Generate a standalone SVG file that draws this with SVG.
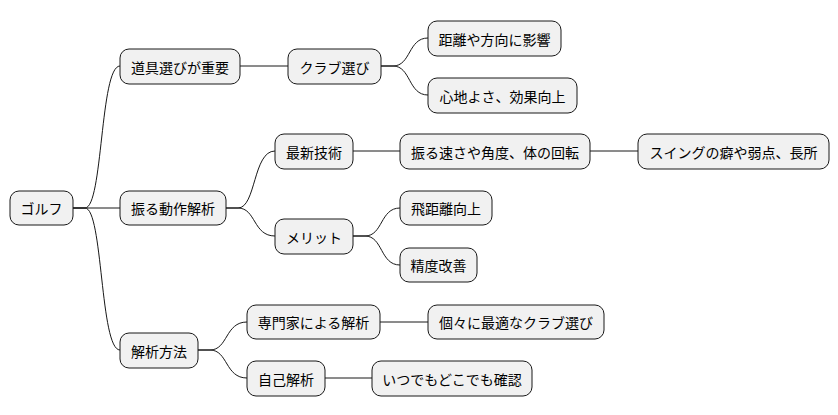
<svg xmlns="http://www.w3.org/2000/svg" width="838" height="415" viewBox="0 0 838 415">
<style>
.n rect{fill:#f1f1f1;stroke:#181818;stroke-width:1}
.n text{font-family:"Noto Sans CJK JP","Noto Sans",sans-serif;font-size:14px;fill:#000;text-anchor:middle;dominant-baseline:central}
#edges path{fill:none;stroke:#181818;stroke-width:1}
</style>
<rect width="838" height="415" fill="#fff"/>
<g id="edges">
<path d="M73,208 H85 C103,208 100,66 120,66"/>
<path d="M73,208 H120"/>
<path d="M73,208 H85 C103,208 100,350 120,350"/>
<path d="M240,66 H288"/>
<path d="M381,66 H393 C411,66 408,38 428,38"/>
<path d="M381,66 H393 C411,66 408,95 428,95"/>
<path d="M226,208 H238 C256,208 253,151 275,151"/>
<path d="M226,208 H238 C256,208 253,236 275,236"/>
<path d="M353,151 H400"/>
<path d="M590,151 H638"/>
<path d="M353,236 H365 C383,236 380,208 400,208"/>
<path d="M353,236 H365 C383,236 380,265 400,265"/>
<path d="M198,350 H210 C228,350 225,322 247,322"/>
<path d="M198,350 H210 C228,350 225,378 247,378"/>
<path d="M380,322 H428"/>
<path d="M325,378 H372"/>
</g>
<g id="n1" class="n"><rect x="10" y="191" width="63" height="34" rx="9"/><text x="41.5" y="208">ゴルフ</text></g>
<g id="n2" class="n"><rect x="120" y="49" width="120" height="35" rx="9"/><text x="180" y="66.5">道具選びが重要</text></g>
<g id="n3" class="n"><rect x="288" y="49" width="93" height="35" rx="9"/><text x="334.5" y="66.5">クラブ選び</text></g>
<g id="n4" class="n"><rect x="428" y="21" width="133" height="35" rx="9"/><text x="494.5" y="38.5">距離や方向に影響</text></g>
<g id="n5" class="n"><rect x="428" y="78" width="149" height="35" rx="9"/><text x="502.5" y="95.5">心地よさ、効果向上</text></g>
<g id="n6" class="n"><rect x="120" y="191" width="106" height="34" rx="9"/><text x="173" y="208">振る動作解析</text></g>
<g id="n7" class="n"><rect x="275" y="134" width="78" height="35" rx="9"/><text x="314" y="151.5">最新技術</text></g>
<g id="n8" class="n"><rect x="400" y="134" width="190" height="35" rx="9"/><text x="495" y="151.5">振る速さや角度、体の回転</text></g>
<g id="n9" class="n"><rect x="638" y="134" width="191" height="35" rx="9"/><text x="733.5" y="151.5">スイングの癖や弱点、長所</text></g>
<g id="n10" class="n"><rect x="275" y="219" width="78" height="35" rx="9"/><text x="314" y="236.5">メリット</text></g>
<g id="n11" class="n"><rect x="400" y="191" width="92" height="34" rx="9"/><text x="446" y="208">飛距離向上</text></g>
<g id="n12" class="n"><rect x="400" y="248" width="77" height="34" rx="9"/><text x="438.5" y="265">精度改善</text></g>
<g id="n13" class="n"><rect x="120" y="333" width="78" height="35" rx="9"/><text x="159" y="350.5">解析方法</text></g>
<g id="n14" class="n"><rect x="247" y="305" width="133" height="34" rx="9"/><text x="313.5" y="322">専門家による解析</text></g>
<g id="n15" class="n"><rect x="428" y="305" width="176" height="34" rx="9"/><text x="516" y="322">個々に最適なクラブ選び</text></g>
<g id="n16" class="n"><rect x="247" y="361" width="78" height="35" rx="9"/><text x="286" y="378.5">自己解析</text></g>
<g id="n17" class="n"><rect x="372" y="361" width="160" height="35" rx="9"/><text x="452" y="378.5">いつでもどこでも確認</text></g>
</svg>
